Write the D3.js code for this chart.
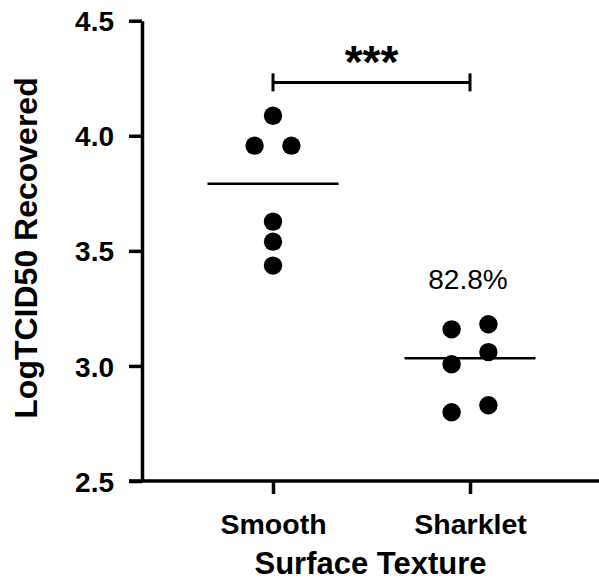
<!DOCTYPE html>
<html>
<head>
<meta charset="utf-8">
<script src="https://cdn.jsdelivr.net/npm/d3@7"></script>
<style>
  body { margin: 0; background: #fff; }
  svg { display: block; }
  text { font-family: "Liberation Sans", Arial, sans-serif; fill: #000; }
</style>
</head>
<body>
<div id="chart-area"></div>
<script>
// data
var categories = ["Smooth", "Sharklet"];
var smoothValues = [4.087, 3.957, 3.957, 3.627, 3.540, 3.436];
var sharkletValues = [3.181, 3.159, 3.060, 3.007, 2.829, 2.799];
var yTicks = [2.5, 3.0, 3.5, 4.0, 4.5];
var bracketLevel = 4.232;
var bracketLabel = "***";
var reductionLabel = "82.8%";
var reductionLevel = 3.334;

var width = 599, height = 581;

var svg = d3
  .select("#chart-area")
  .append("svg")
  .attr("width", width)
  .attr("height", height);

var y = d3.scaleLinear().domain([2.5, 4.5]).range([481, 20.7]);
var x = d3.scalePoint().domain(categories).range([273, 470]);

var axisX0 = 142, tickLen = 13, r = 9.2;

// y axis
var yAxis = svg
  .append("g")
  .attr("transform", "translate(" + axisX0 + ",0)")
  .call(d3.axisLeft(y).tickValues(yTicks).tickFormat(d3.format(".1f")).tickSize(tickLen).tickSizeOuter(0).tickPadding(15));
yAxis.select(".domain").attr("stroke-width", 3.5).attr("stroke", "#000");
yAxis.selectAll(".tick line").attr("stroke-width", 3.5).attr("stroke", "#000");
yAxis.selectAll(".tick text")
  .attr("font-size", 28)
  .attr("font-weight", "bold")
  .attr("dy", "0.36em");

// x axis
var xAxis = svg
  .append("g")
  .attr("transform", "translate(0," + y(2.5) + ")")
  .call(d3.axisBottom(x).tickSize(tickLen).tickSizeOuter(0).tickPadding(20));
xAxis.select(".domain").remove();
xAxis.append("line")
  .attr("x1", axisX0 - tickLen)
  .attr("x2", width)
  .attr("stroke", "#000")
  .attr("stroke-width", 3.5);
xAxis.selectAll(".tick line").attr("stroke-width", 3.5).attr("stroke", "#000");
xAxis.selectAll(".tick text")
  .attr("font-size", 28.5)
  .attr("font-weight", "bold");

// axis titles
svg.append("text")
  .attr("transform", "translate(37,248) rotate(-90)")
  .attr("text-anchor", "middle")
  .attr("font-size", 32)
  .attr("font-weight", "bold")
  .text("LogTCID50 Recovered");

svg.append("text")
  .attr("x", 370.5)
  .attr("y", 574)
  .attr("text-anchor", "middle")
  .attr("font-size", 31)
  .attr("font-weight", "bold")
  .text("Surface Texture");

// spread points with near-equal values side by side
var spacing = 4 * r;
function swarm(cat, values) {
  var sorted = values.slice().sort((a, b) => a - b);
  var groups = [];
  sorted.forEach((v) => {
    var g = groups[groups.length - 1];
    if (g && Math.abs(y(g[g.length - 1]) - y(v)) < 2 * r) g.push(v);
    else groups.push([v]);
  });
  var pts = [];
  groups.forEach((g) => {
    g.forEach((v, i) => {
      pts.push({ cat: cat, value: v, dx: (i - (g.length - 1) / 2) * spacing });
    });
  });
  return pts;
}

var series = [
  { cat: "Smooth", values: smoothValues },
  { cat: "Sharklet", values: sharkletValues }
];

var points = [];
series.forEach((s) => { points = points.concat(swarm(s.cat, s.values)); });

svg.selectAll("circle.pt")
  .data(points)
  .enter()
  .append("circle")
  .attr("class", "pt")
  .attr("cx", (d) => x(d.cat) + d.dx)
  .attr("cy", (d) => y(d.value))
  .attr("r", r)
  .attr("fill", "#000");

// median lines
svg.selectAll("line.median")
  .data(series)
  .enter()
  .append("line")
  .attr("class", "median")
  .attr("x1", (d) => x(d.cat) - 65.5)
  .attr("x2", (d) => x(d.cat) + 65.5)
  .attr("y1", (d) => y(d3.median(d.values)))
  .attr("y2", (d) => y(d3.median(d.values)))
  .attr("stroke", "#000")
  .attr("stroke-width", 2.5);

// significance bracket
var by = y(bracketLevel);
var bx1 = x(categories[0]), bx2 = x(categories[1]);
var br = svg.append("g").attr("stroke", "#000").attr("stroke-width", 3);
br.append("line").attr("x1", bx1).attr("x2", bx2).attr("y1", by).attr("y2", by);
br.append("line").attr("x1", bx1).attr("x2", bx1).attr("y1", by - 9).attr("y2", by + 9);
br.append("line").attr("x1", bx2).attr("x2", bx2).attr("y1", by - 9).attr("y2", by + 9);

svg.append("text")
  .attr("x", (bx1 + bx2) / 2)
  .attr("y", 78)
  .attr("text-anchor", "middle")
  .attr("font-size", 46)
  .attr("font-weight", "bold")
  .text(bracketLabel);

svg.append("text")
  .attr("x", x("Sharklet") - 2)
  .attr("y", y(reductionLevel))
  .attr("text-anchor", "middle")
  .attr("font-size", 28)
  .text(reductionLabel);
</script>
</body>
</html>
